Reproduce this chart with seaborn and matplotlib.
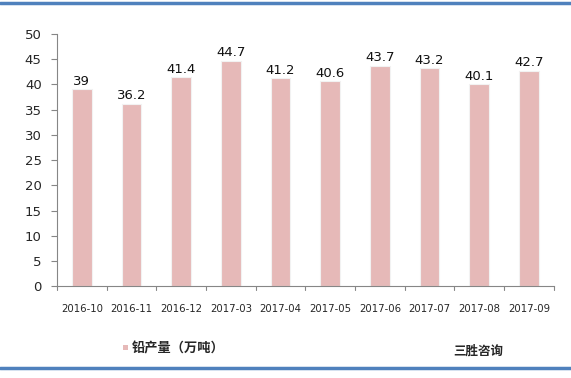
import pandas as pd
import matplotlib.pyplot as plt
import matplotlib.lines as mlines
import seaborn as sns

months = ['2016-10', '2016-11', '2016-12', '2017-03', '2017-04',
          '2017-05', '2017-06', '2017-07', '2017-08', '2017-09']
output = [39, 36.2, 41.4, 44.7, 41.2, 40.6, 43.7, 43.2, 40.1, 42.7]
value_labels = ['39', '36.2', '41.4', '44.7', '41.2', '40.6', '43.7', '43.2', '40.1', '42.7']
legend_label = '铅产量（万吨）'
source_label = '三胜咨询'

df = pd.DataFrame({'month': months, 'output': output})

sns.set_style('white')
plt.rcParams['font.family'] = ['DejaVu Sans', 'Noto Sans CJK SC']

fig = plt.figure(figsize=(5.71, 3.78), dpi=100)
ax = fig.add_axes([0.0998, 0.243, 0.870, 0.667])

bar_color = '#E6B9B8'
sns.barplot(data=df, x='month', y='output', color=bar_color, width=0.4,
            saturation=1, ax=ax, edgecolor='#F2F2F2', linewidth=0.8)

ax.bar_label(ax.containers[0], labels=value_labels, padding=1, fontsize=9.5, color='#111111')

ax.set_ylim(0, 50)
ax.set_yticks(range(0, 51, 5))
ax.set_xlim(-0.5, len(months) - 0.5)
ax.set_xlabel('')
ax.set_ylabel('')

for s in ['top', 'right']:
    ax.spines[s].set_visible(False)
for s in ['left', 'bottom']:
    ax.spines[s].set_color('#868686')
    ax.spines[s].set_linewidth(0.8)

ax.tick_params(axis='y', length=4, color='#868686', labelsize=9.5, pad=7, left=True)
ax.tick_params(axis='x', length=0, labelsize=7.3, pad=13)
# category boundary ticks (Excel style)
for i in range(len(months) + 1):
    ax.plot([i - 0.5, i - 0.5], [0, -0.016], transform=ax.get_xaxis_transform(),
            color='#868686', lw=0.8, clip_on=False)

# legend at bottom
fig.patches.append(plt.Rectangle((0.2155, 0.074), 0.0085, 0.0135, transform=fig.transFigure,
                                 facecolor=bar_color, edgecolor='none'))
fig.text(0.230, 0.077, legend_label, fontsize=9.5, fontweight='bold', va='center', ha='left',
         family=['Noto Sans CJK SC', 'DejaVu Sans'])
fig.text(0.793, 0.072, source_label, fontsize=9, fontweight='bold', va='center', ha='left',
         family=['Noto Sans CJK SC', 'DejaVu Sans'])

# blue frame lines at top and bottom
fig.add_artist(mlines.Line2D([0, 1], [0.992, 0.992], color='#4F81BD', lw=2.5, transform=fig.transFigure))
fig.add_artist(mlines.Line2D([0, 1], [0.026, 0.026], color='#4F81BD', lw=2.5, transform=fig.transFigure))

plt.savefig('out.png', dpi=100)
